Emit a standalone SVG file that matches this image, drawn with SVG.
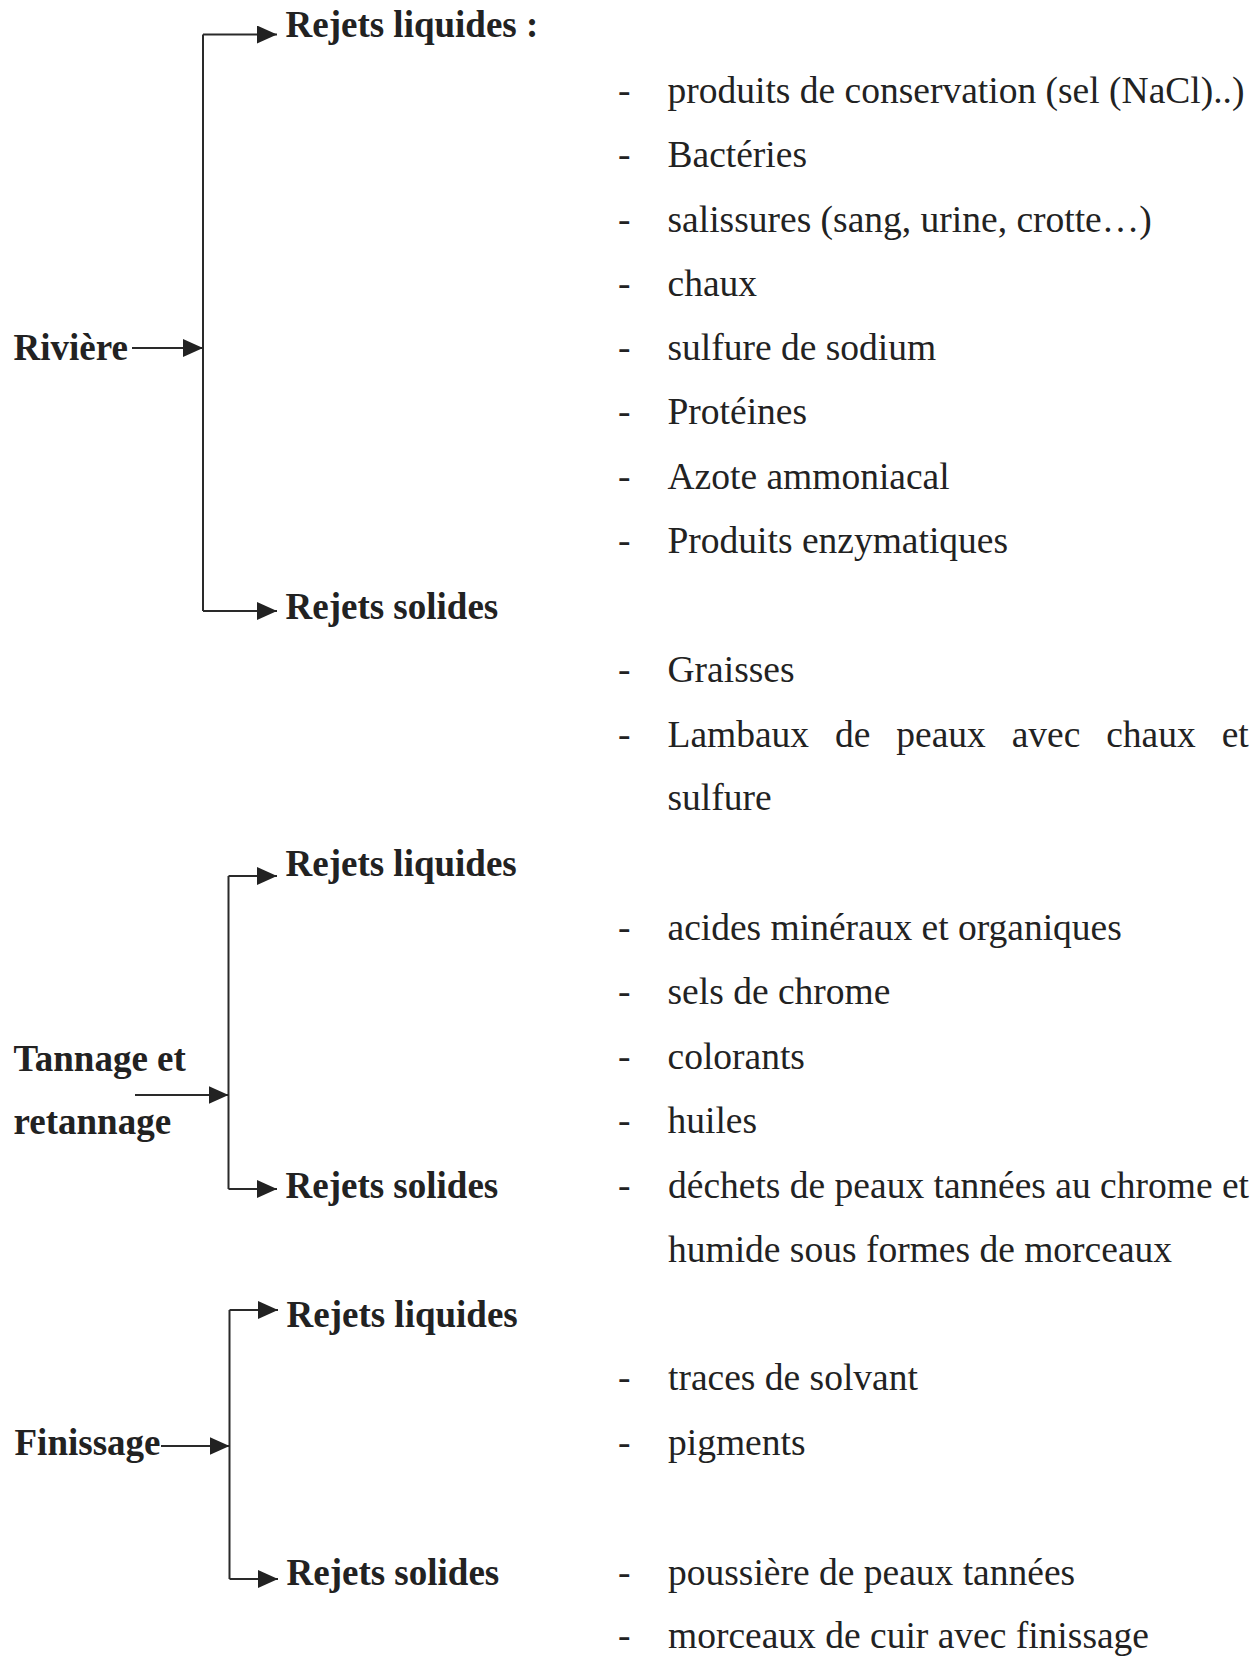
<svg xmlns="http://www.w3.org/2000/svg" width="1257" height="1659" viewBox="0 0 1257 1659">
<style>
.b{font-family:"Liberation Serif","Times New Roman",serif;font-weight:bold;font-size:37px;fill:#222}
.r{font-family:"Liberation Serif","Times New Roman",serif;font-size:37.5px;fill:#222}
.c{stroke:#2a2a2a;stroke-width:2;fill:none}
.a{marker-end:url(#ah)}
</style>
<defs>
<marker id="ah" viewBox="0 0 20 18" refX="20" refY="9" markerWidth="20" markerHeight="18" markerUnits="userSpaceOnUse" orient="auto">
<path d="M0,0 L20,9 L0,18 z" fill="#222"/>
</marker>
</defs>
<rect width="1257" height="1659" fill="#fff"/>
<g id="connectors">
<path class="c" d="M203,34.5 V611"/>
<path class="c a" d="M203,34.5 H277"/>
<path class="c a" d="M203,611 H277"/>
<path class="c a" d="M132,348 H203"/>
<path class="c" d="M228.5,876 V1189"/>
<path class="c a" d="M228.5,876 H277"/>
<path class="c a" d="M228.5,1189 H277"/>
<path class="c a" d="M135,1095 H228.5"/>
<path class="c" d="M229.5,1310 V1579"/>
<path class="c a" d="M229.5,1310 H278"/>
<path class="c a" d="M229.5,1579 H278"/>
<path class="c a" d="M161,1446 H229.5"/>
</g>
<g id="riviere"><text class="b" x="13.5" y="360">Rivière</text></g>
<g id="tannage"><text class="b" x="13.5" y="1071">Tannage et</text><text class="b" x="13.5" y="1134">retannage</text></g>
<g id="finissage"><text class="b" x="14.5" y="1455">Finissage</text></g>
<g id="riv-liq"><text class="b" x="285.5" y="37">Rejets liquides :</text></g>
<g id="riv-sol"><text class="b" x="285.5" y="619">Rejets solides</text></g>
<g id="tan-liq"><text class="b" x="285.5" y="876">Rejets liquides</text></g>
<g id="tan-sol"><text class="b" x="285.5" y="1198">Rejets solides</text></g>
<g id="fin-liq"><text class="b" x="286.5" y="1327">Rejets liquides</text></g>
<g id="fin-sol"><text class="b" x="286.5" y="1585">Rejets solides</text></g>
<g id="riv-liq-list">
<text class="r" x="618" y="102.5">-</text><text class="r" x="667.5" y="102.5">produits de conservation (sel (NaCl)..)</text>
<text class="r" x="618" y="167">-</text><text class="r" x="667.5" y="167">Bactéries</text>
<text class="r" x="618" y="232">-</text><text class="r" x="667.5" y="232">salissures (sang, urine, crotte…)</text>
<text class="r" x="618" y="296">-</text><text class="r" x="667.5" y="296">chaux</text>
<text class="r" x="618" y="360">-</text><text class="r" x="667.5" y="360">sulfure de sodium</text>
<text class="r" x="618" y="424">-</text><text class="r" x="667.5" y="424">Protéines</text>
<text class="r" x="618" y="489">-</text><text class="r" x="667.5" y="489">Azote ammoniacal</text>
<text class="r" x="618" y="553">-</text><text class="r" x="667.5" y="553">Produits enzymatiques</text>
</g>
<g id="riv-sol-list">
<text class="r" x="618" y="682">-</text><text class="r" x="667.5" y="682">Graisses</text>
<text class="r" x="618" y="747">-</text><text class="r" x="667.5" y="747" word-spacing="16.5">Lambaux de peaux avec chaux et</text>
<text class="r" x="667.5" y="810">sulfure</text>
</g>
<g id="tan-liq-list">
<text class="r" x="618" y="939.5">-</text><text class="r" x="667.5" y="939.5">acides minéraux et organiques</text>
<text class="r" x="618" y="1004">-</text><text class="r" x="667.5" y="1004">sels de chrome</text>
<text class="r" x="618" y="1068.5">-</text><text class="r" x="667.5" y="1068.5">colorants</text>
<text class="r" x="618" y="1133">-</text><text class="r" x="667.5" y="1133">huiles</text>
</g>
<g id="tan-sol-list">
<text class="r" x="618" y="1198">-</text><text class="r" x="668" y="1198">déchets de peaux tannées au chrome et</text>
<text class="r" x="668" y="1262">humide sous formes de morceaux</text>
</g>
<g id="fin-liq-list">
<text class="r" x="618" y="1390">-</text><text class="r" x="668" y="1390">traces de solvant</text>
<text class="r" x="618" y="1455">-</text><text class="r" x="668" y="1455">pigments</text>
</g>
<g id="fin-sol-list">
<text class="r" x="618" y="1585">-</text><text class="r" x="668" y="1585">poussière de peaux tannées</text>
<text class="r" x="618" y="1648">-</text><text class="r" x="668" y="1648">morceaux de cuir avec finissage</text>
</g>
</svg>
